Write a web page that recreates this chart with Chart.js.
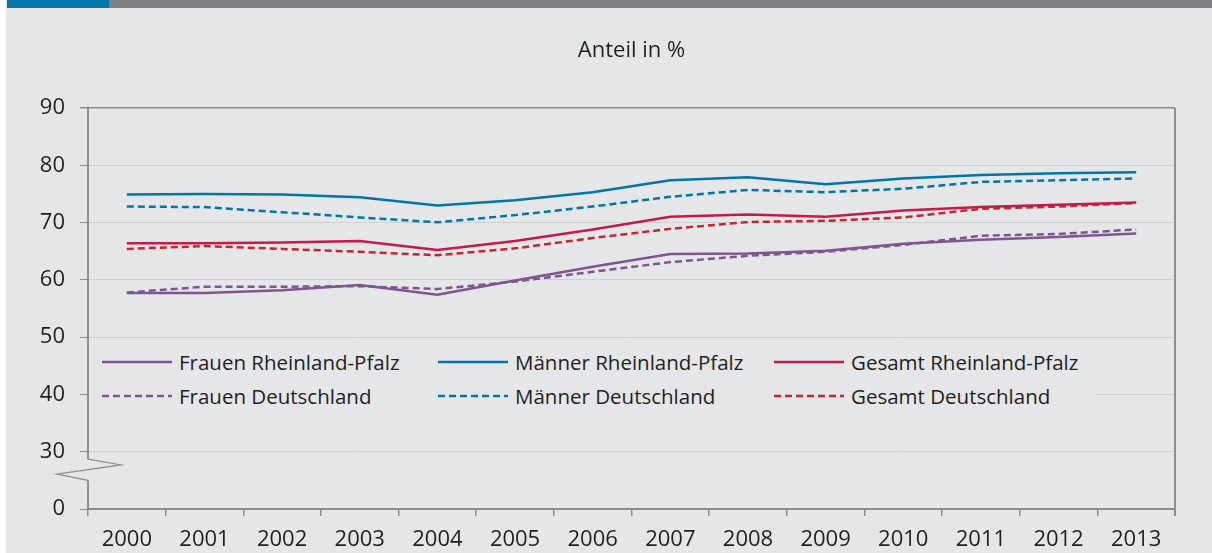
<!DOCTYPE html>
<html lang="de">
<head>
<meta charset="utf-8">
<script src="https://cdn.jsdelivr.net/npm/chart.js@4.4.1/dist/chart.umd.min.js"></script>
<style>
  html, body { margin: 0; padding: 0; background: #fff; }
  #wrap { position: relative; width: 1212px; height: 553px; overflow: hidden; }
  #panel { position: absolute; left: 6px; top: 0; right: 0; bottom: 0; background: #e5e6e8; }
  #barBlue { position: absolute; left: 7px; top: 0; width: 102px; height: 8px; background: #0077a8; }
  #barGray { position: absolute; left: 109px; top: 0; right: 0; height: 8px; background: #808184; }
  #chart { position: absolute; left: 0; top: 0; }
  #legend {
    position: absolute; left: 89px; top: 343px; width: 1007px; height: 68px;
    background: #e5e6e8; font-family: "Open Sans", sans-serif; font-size: 20.5px; color: #231f20;
  }
  .item { position: absolute; display: flex; align-items: center; height: 24px; white-space: nowrap; }
  .item svg { margin-right: 7px; }
</style>
</head>
<body>
<div id="wrap">
  <div id="panel"></div>
  <div id="barBlue"></div>
  <div id="barGray"></div>
  <canvas id="chart" width="1212" height="553"></canvas>
  <div id="legend"></div>
</div>
<script>
const years = ['2000', '2001', '2002', '2003', '2004', '2005', '2006', '2007', '2008', '2009', '2010', '2011', '2012', '2013'];
const frauenRP = [57.7, 57.7, 58.2, 59.1, 57.4, 59.9, 62.3, 64.5, 64.6, 65.1, 66.3, 67.0, 67.5, 68.1];
const maennerRP = [74.9, 75.0, 74.9, 74.4, 73.0, 73.9, 75.3, 77.4, 77.9, 76.7, 77.7, 78.3, 78.6, 78.8];
const gesamtRP = [66.4, 66.4, 66.5, 66.8, 65.2, 66.8, 68.8, 71.0, 71.4, 71.0, 72.1, 72.7, 73.1, 73.5];
const frauenDE = [57.8, 58.8, 58.8, 58.9, 58.4, 59.7, 61.4, 63.1, 64.2, 64.9, 66.1, 67.7, 68.0, 68.8];
const maennerDE = [72.8, 72.7, 71.8, 70.9, 70.05, 71.3, 72.8, 74.5, 75.7, 75.3, 75.9, 77.1, 77.4, 77.7];
const gesamtDE = [65.4, 65.9, 65.4, 64.9, 64.3, 65.5, 67.3, 68.9, 70.1, 70.3, 70.9, 72.4, 72.8, 73.4];
// "0" sits where 20 would be: the axis is broken between 0 and 30
const yTicks = [20, 30, 40, 50, 60, 70, 80, 90];

const FONT = '"Open Sans", sans-serif';
const TEXT = '#231f20';
const AXIS = '#8c8d90';
const GRID = '#cfd0d2';
const PURPLE = '#7f5690';
const BLUE = '#0077a8';
const CRIMSON = '#c51a4a';
const RED = '#c6262e';
const DASH = [7, 4];

const series = [
  { label: 'Frauen Rheinland-Pfalz', data: frauenRP, color: PURPLE, dash: [] },
  { label: 'Männer Rheinland-Pfalz', data: maennerRP, color: BLUE, dash: [] },
  { label: 'Gesamt Rheinland-Pfalz', data: gesamtRP, color: CRIMSON, dash: [] },
  { label: 'Frauen Deutschland', data: frauenDE, color: PURPLE, dash: DASH },
  { label: 'Männer Deutschland', data: maennerDE, color: BLUE, dash: DASH },
  { label: 'Gesamt Deutschland', data: gesamtDE, color: RED, dash: DASH },
];

// left axis with the zigzag break, plus the right frame line
const frame = {
  id: 'frame',
  afterDraw(chart) {
    const { ctx, chartArea } = chart;
    const y = chart.scales.y;
    const y30 = y.getPixelForValue(30);
    const h = y.getPixelForValue(20) - y30;
    const x = chartArea.left;
    ctx.save();
    ctx.strokeStyle = AXIS;
    ctx.lineWidth = 2;
    ctx.beginPath();
    ctx.moveTo(x, chartArea.top);
    ctx.lineTo(x, y30 + 0.13 * h);
    ctx.stroke();
    ctx.beginPath();
    ctx.moveTo(x, y30 + 0.5 * h);
    ctx.lineTo(x, chartArea.bottom + 1);
    ctx.stroke();
    ctx.lineWidth = 1.2;
    ctx.beginPath();
    ctx.moveTo(x, y30 + 0.13 * h);
    ctx.lineTo(x + 33, y30 + 0.23 * h);
    ctx.lineTo(x - 31, y30 + 0.39 * h);
    ctx.lineTo(x, y30 + 0.5 * h);
    ctx.stroke();
    ctx.lineWidth = 2;
    ctx.beginPath();
    ctx.moveTo(chartArea.right, chartArea.top);
    ctx.lineTo(chartArea.right, chartArea.bottom + 7);
    ctx.stroke();
    ctx.restore();
  }
};

new Chart(document.getElementById('chart'), {
  type: 'line',
  data: {
    labels: years,
    datasets: series.map(s => ({
      label: s.label,
      data: s.data,
      borderColor: s.color,
      borderDash: s.dash,
      borderWidth: 2.5,
      pointRadius: 0,
      tension: 0,
    })),
  },
  options: {
    responsive: false,
    animation: false,
    layout: { padding: { left: 0, right: 37, top: 0, bottom: 0 } },
    plugins: {
      legend: { display: false },
      tooltip: { enabled: false },
      title: {
        display: true,
        text: 'Anteil in %',
        fullSize: false,
        color: TEXT,
        font: { family: FONT, size: 22, weight: 'normal' },
        padding: { top: 37.8, bottom: 43.8 },
      },
    },
    scales: {
      x: {
        type: 'category',
        offset: true,
        afterFit: s => { s.height = 44; },
        grid: { offset: true, drawOnChartArea: false, tickLength: 7, color: AXIS, lineWidth: 1.5 },
        border: { display: true, color: AXIS, width: 2 },
        ticks: { color: TEXT, font: { family: FONT, size: 22 }, padding: 11, maxRotation: 0 },
      },
      y: {
        min: 20, max: 90,
        afterFit: s => { s.width = 88; },
        afterBuildTicks: s => { s.ticks = yTicks.map(v => ({ value: v })); },
        grid: {
          color: c => (c.tick && c.tick.value === 90 ? AXIS : GRID),
          tickColor: AXIS,
          tickLength: 8,
          lineWidth: c => (c.tick && c.tick.value === 90 ? 1.5 : 1),
        },
        border: { display: false },
        ticks: {
          color: TEXT,
          font: { family: FONT, size: 22 },
          padding: 15,
          callback: v => (v === 20 ? '0' : String(v)),
        },
      },
    },
  },
  plugins: [frame],
});

// legend: three columns, Rheinland-Pfalz on top, Deutschland below
const legend = document.getElementById('legend');
series.forEach((s, i) => {
  const col = i % 3, row = Math.floor(i / 3);
  const el = document.createElement('div');
  el.className = 'item';
  el.style.left = (13 + col * 336) + 'px';
  el.style.top = (7 + row * 34) + 'px';
  el.innerHTML =
    `<svg width="70" height="4"><line x1="0" y1="2" x2="70" y2="2" stroke="${s.color}" stroke-width="2.5"` +
    (s.dash.length ? ` stroke-dasharray="${s.dash.join(' ')}"` : '') + `/></svg><span>${s.label}</span>`;
  legend.appendChild(el);
});
</script>
</body>
</html>
